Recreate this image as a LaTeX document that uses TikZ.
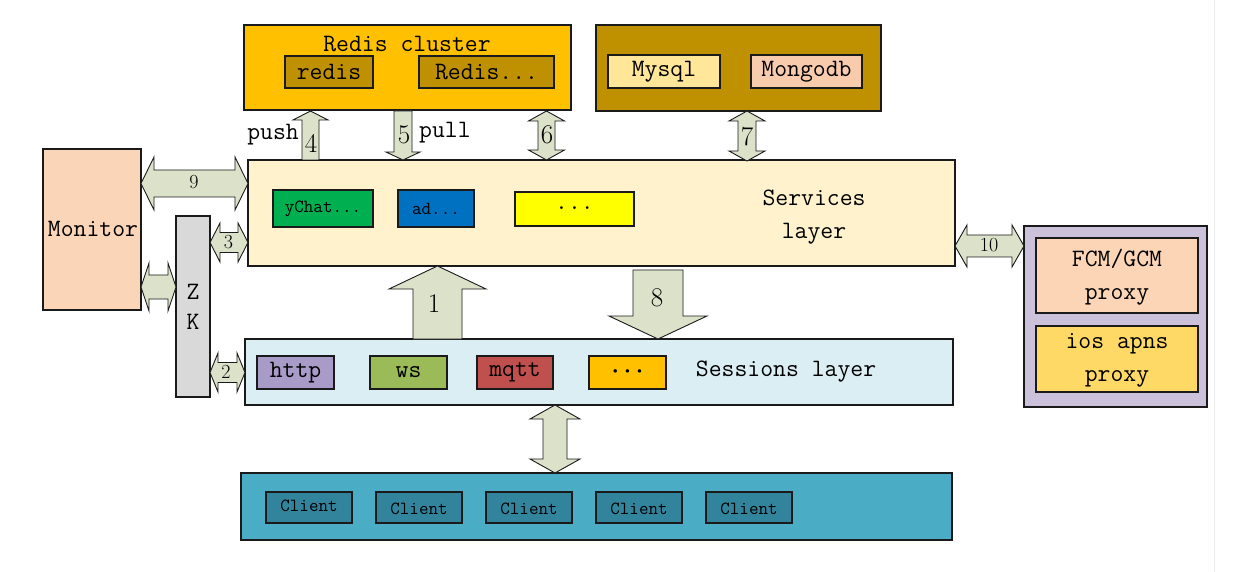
\documentclass[tikz,border=0pt]{standalone}
\usepackage{xcolor}
\definecolor{gold}{HTML}{FFC000}
\definecolor{dgold}{HTML}{BF9000}
\definecolor{mysqlc}{HTML}{FFE699}
\definecolor{mongoc}{HTML}{F8CBAD}
\definecolor{servc}{HTML}{FFF2CC}
\definecolor{ychatc}{HTML}{00B050}
\definecolor{adc}{HTML}{0070C0}
\definecolor{yel}{HTML}{FFFF00}
\definecolor{monc}{HTML}{FAD5B8}
\definecolor{zkc}{HTML}{D9D9D9}
\definecolor{sessc}{HTML}{DAEEF3}
\definecolor{httpc}{HTML}{A99BC8}
\definecolor{wsc}{HTML}{9BBB59}
\definecolor{mqttc}{HTML}{C0504D}
\definecolor{clic}{HTML}{4BACC6}
\definecolor{clibox}{HTML}{31849B}
\definecolor{pushc}{HTML}{CCC1DA}
\definecolor{fcmc}{HTML}{FBD5B5}
\definecolor{iosc}{HTML}{FFD966}
\definecolor{arrc}{HTML}{DCE2CA}
\definecolor{edge}{HTML}{1A1A1A}
\newcommand\bigtt{\ttfamily\fontsize{25}{28}\selectfont}
\newcommand\smtt{\ttfamily\fontsize{18.5}{21}\selectfont}
\newcommand\bignum{\rmfamily\fontsize{27}{30}\selectfont}
\newcommand\smnum{\rmfamily\fontsize{20}{22}\selectfont}
% vertical double arrow: x, ytop, ybot, shaft half, head half, head length
\newcommand\vdarrow[6]{\draw[barrow] (#1,#2) -- ++(#5,#6) -- (#1+#4,#2+#6) -- (#1+#4,#3-#6) -- (#1+#5,#3-#6) -- (#1,#3) -- (#1-#5,#3-#6) -- (#1-#4,#3-#6) -- (#1-#4,#2+#6) -- (#1-#5,#2+#6) -- cycle;}
% horizontal double arrow: y, xleft, xright, shaft half, head half, head length
\newcommand\hdarrow[6]{\draw[barrow] (#2,#1) -- (#2+#6,#1-#5) -- (#2+#6,#1-#4) -- (#3-#6,#1-#4) -- (#3-#6,#1-#5) -- (#3,#1) -- (#3-#6,#1+#5) -- (#3-#6,#1+#4) -- (#2+#6,#1+#4) -- (#2+#6,#1+#5) -- cycle;}
% up arrow: x, ytip, ybase, ybottom, shaft half, head half
\newcommand\uparr[6]{\draw[barrow] (#1,#2) -- (#1+#6,#3) -- (#1+#5,#3) -- (#1+#5,#4) -- (#1-#5,#4) -- (#1-#5,#3) -- (#1-#6,#3) -- cycle;}
% down arrow: x, ytop, ybase, ytip, shaft half, head half
\newcommand\downarr[6]{\draw[barrow] (#1,#4) -- (#1+#6,#3) -- (#1+#5,#3) -- (#1+#5,#2) -- (#1-#5,#2) -- (#1-#5,#3) -- (#1-#6,#3) -- cycle;}
\begin{document}
\begin{tikzpicture}[x=1pt,y=-1pt,
  box/.style={draw=edge,line width=1.1pt,inner sep=0pt,outer sep=0pt},
  barrow/.style={draw=edge,fill=arrc,line width=0.9pt,line join=miter},
  lbl/.style={inner sep=0pt,font=\bigtt,text=black},
  slbl/.style={inner sep=0pt,font=\smtt,text=black}]
\useasboundingbox[fill=white] (0,0) rectangle (1240,572);
\draw[color=black!8,line width=1pt] (1214,0) -- (1214,572);

% Redis cluster
\node[box,fill=gold,minimum width=327,minimum height=85] (redisc) at (407.5,67.5) {};
\node[lbl] (redisct) at (407,44) {Redis cluster};
\node[box,fill=dgold,minimum width=88,minimum height=32] (redis1) at (329,72) {};
\node[lbl] at (redis1) {redis};
\node[box,fill=dgold,minimum width=135,minimum height=32] (redis2) at (486.5,72) {};
\node[lbl] at (redis2) {Redis...};

% DB box
\node[box,fill=dgold,minimum width=285,minimum height=86] (db) at (738.5,68) {};
\node[box,fill=mysqlc,minimum width=112,minimum height=33] (mysql) at (664,71.5) {};
\node[lbl] at (mysql) {Mysql};
\node[box,fill=mongoc,minimum width=111,minimum height=33] (mongo) at (806.5,71.5) {};
\node[lbl] at (mongo) {Mongodb};

% Services layer
\node[box,fill=servc,minimum width=707,minimum height=106] (serv) at (601.5,213) {};
\node[lbl,align=center] at (814,217) {Services\\[5pt]layer};
\node[box,fill=ychatc,minimum width=100,minimum height=37] (ychat) at (323,208.5) {};
\node[slbl] at (ychat) {yChat...};
\node[box,fill=adc,minimum width=76,minimum height=37] (ad) at (436,208.5) {};
\node[slbl] at (ad) {ad...};
\node[box,fill=yel,minimum width=119,minimum height=34] (dots) at (574.5,209) {};
\node[lbl] at (574.5,208) {...};

% Monitor
\node[box,fill=monc,minimum width=98,minimum height=161] (mon) at (92,229.5) {};
\node[lbl] at (93,229) {Monitor};

% ZK
\node[box,fill=zkc,minimum width=34,minimum height=181] (zk) at (193,306.5) {};
\node[lbl] at (193,292) {Z};
\node[lbl] at (193,322) {K};

% Sessions layer
\node[box,fill=sessc,minimum width=708,minimum height=66] (sess) at (599,372) {};
\node[lbl] at (786,372) {Sessions layer};
\node[box,fill=httpc,minimum width=77,minimum height=33] (http) at (295.5,372.5) {};
\node[lbl] at (http) {http};
\node[box,fill=wsc,minimum width=77,minimum height=33] (ws) at (408.5,372.5) {};
\node[lbl] at (ws) {ws};
\node[box,fill=mqttc,minimum width=76,minimum height=33] (mqtt) at (515,372.5) {};
\node[lbl] at (mqtt) {mqtt};
\node[box,fill=gold,minimum width=77,minimum height=33] (sdots) at (627.5,372.5) {};
\node[inner sep=0pt,font=\rmfamily\fontsize{13}{14}\selectfont] at (sdots) {\textbullet\,\textbullet\,\textbullet};

% Clients
\node[box,fill=clic,minimum width=711,minimum height=67] (cli) at (596.5,506.5) {};
\node[box,fill=clibox,minimum width=86,minimum height=31] (c1) at (309,507.5) {};
\node[slbl] at (309,505.5) {Client};
\node[box,fill=clibox,minimum width=86,minimum height=31] (c2) at (419,507.5) {};
\node[slbl] at (419,508.5) {Client};
\node[box,fill=clibox,minimum width=86,minimum height=31] (c3) at (529,507.5) {};
\node[slbl] at (529,508.5) {Client};
\node[box,fill=clibox,minimum width=86,minimum height=31] (c4) at (639,507.5) {};
\node[slbl] at (639,508.5) {Client};
\node[box,fill=clibox,minimum width=86,minimum height=31] (c5) at (749,507.5) {};
\node[slbl] at (749,508.5) {Client};

% Push proxies
\node[box,fill=pushc,minimum width=183,minimum height=181] (push) at (1115.5,316.5) {};
\node[box,fill=fcmc,minimum width=162,minimum height=75] (fcm) at (1117,275.5) {};
\node[lbl,align=center] at (1117,277) {FCM/GCM\\[5pt]proxy};
\node[box,fill=iosc,minimum width=162,minimum height=66] (ios) at (1117,359) {};
\node[lbl,align=center] at (1117,360) {ios apns\\[5pt]proxy};

% block arrows
\uparr{310.5}{111}{120}{160}{8.5}{17.5}
\node[inner sep=0pt,font=\bignum] at (311,143) {4};
\node[lbl,anchor=east] at (299,135) {push};
\downarr{403}{111}{152}{160}{9}{17}
\node[inner sep=0pt,font=\bignum] at (404,135) {5};
\node[lbl,anchor=west] at (419,133) {pull};
\vdarrow{546.5}{111}{160}{8.5}{18}{10}
\node[inner sep=0pt,font=\bignum] at (547,135) {6};
\vdarrow{747}{111}{161}{9}{18}{10}
\node[inner sep=0pt,font=\bignum] at (747,137) {7};

\hdarrow{183.5}{141}{248}{13.5}{26.5}{13}
\node[inner sep=0pt,font=\smnum] at (194,182) {9};
\hdarrow{242.5}{210}{248}{10}{19.5}{10}
\node[inner sep=0pt,font=\smnum] at (228.5,242) {3};
\hdarrow{287}{141}{176}{12}{24}{8}
\hdarrow{372.5}{210}{245}{10}{19.5}{8}
\node[inner sep=0pt,font=\smnum] at (226,372) {2};
\hdarrow{246}{955}{1024}{11}{21}{12}
\node[inner sep=0pt,font=\smnum] at (989,245) {10};

\uparr{437.5}{266}{289}{339}{24.5}{48.5}
\node[inner sep=0pt,font=\bignum] at (434,304) {1};
\downarr{658}{270}{316}{339}{25}{49}
\node[inner sep=0pt,font=\bignum] at (657,298) {8};
\vdarrow{555}{405}{473}{12}{25}{14}
\end{tikzpicture}
\end{document}
